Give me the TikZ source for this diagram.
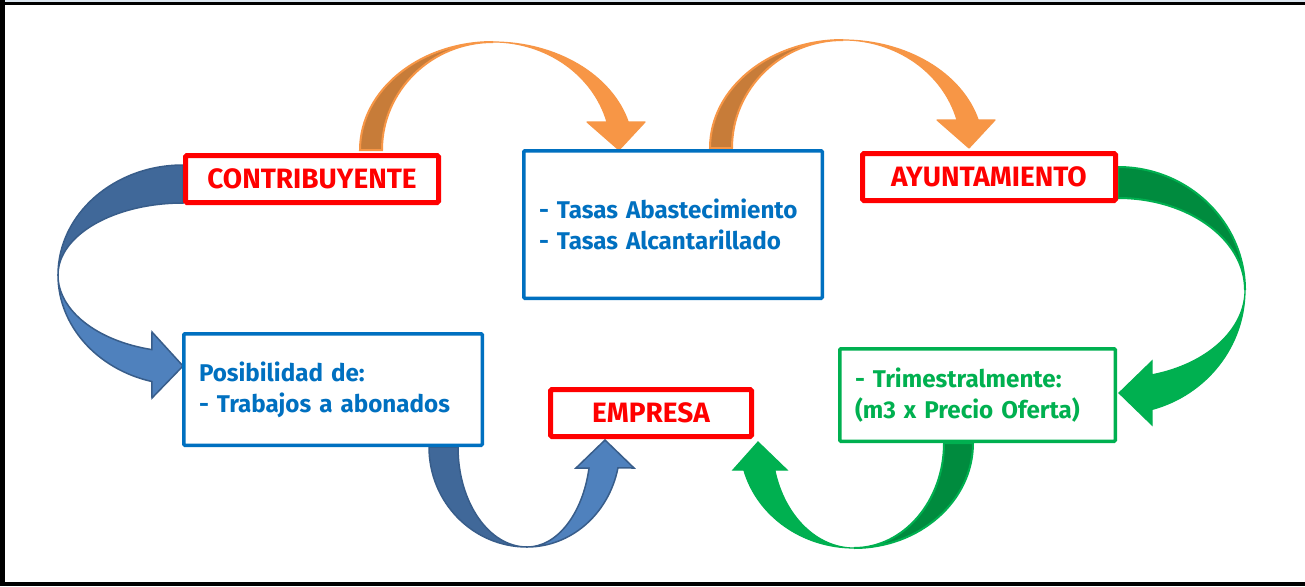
\documentclass[tikz,border=0pt]{standalone}
\usepackage{fontspec}
\setmainfont{Fira Sans}
\definecolor{cred}{RGB}{255,0,0}
\definecolor{cblue}{RGB}{0,112,192}
\definecolor{cgreen}{RGB}{0,176,80}
\definecolor{bluedark}{RGB}{64,104,153}
\definecolor{bluelight}{RGB}{79,129,189}
\definecolor{bluestroke}{RGB}{56,93,138}
\definecolor{corange}{RGB}{247,150,70}
\definecolor{orangedark}{RGB}{199,124,57}
\definecolor{greendark}{RGB}{0,139,62}
\definecolor{topstripe}{RGB}{220,230,240}
\begin{document}
\begin{tikzpicture}[x=1pt,y=-1pt,
  redbox/.style={draw=cred,line width=5pt,fill=white,rounded corners=1.5pt,inner sep=0pt,
    minimum width=253pt,minimum height=47pt,text=cred,font=\fontsize{28}{31}\selectfont\bfseries},
  infobox/.style={line width=3.5pt,fill=white,rounded corners=1pt,inner ysep=0pt,inner xsep=15.25pt,
    align=left,font=\fontsize{24.2}{31}\selectfont\bfseries},
  backpart/.style={line width=2pt},
  frontpart/.style={line width=1.2pt}]
\useasboundingbox (0,0) rectangle (1305,586);
% frame
\fill[white] (0,0) rectangle (1305,586);
\fill[topstripe] (0,0) rectangle (1305,2);
\fill[black] (0,2) rectangle (1305,5);
\fill[black] (0,581.5) rectangle (1305,586);
\fill[black] (0,0) rectangle (4.7,586);

% orange arrows (top)
\foreach \dx/\dy in {0/0,350/-2}{
\begin{scope}[shift={(\dx,\dy)}]
\filldraw[backpart,fill=orangedark,draw=corange] (360,150) arc[start angle=180,end angle=270,x radius=133,y radius=108]
  arc[start angle=270,end angle=180,x radius=111,y radius=108] -- cycle;
\filldraw[frontpart,fill=corange,draw=corange,line join=round] (493,42) arc[start angle=270,end angle=345,x radius=140,y radius=108]
  -- (645,122) -- (619,150) -- (587,122) -- (607,122)
  arc[start angle=345,end angle=270,x radius=118,y radius=108] -- cycle;
\end{scope}}

% blue arrow (left)
\filldraw[backpart,fill=bluedark,draw=bluestroke,line width=1.5pt] (183,165) arc[start angle=270,end angle=180,x radius=125,y radius=110]
  arc[start angle=180,end angle=270,x radius=125,y radius=72] -- cycle;
\filldraw[frontpart,fill=bluelight,draw=bluestroke,line width=1.5pt] (58,275) arc[start angle=180,end angle=104.4,x radius=125,y radius=110]
  -- (152,398) -- (183,366) -- (152,332) -- (151.9,349.6)
  arc[start angle=104.4,end angle=180,x radius=125,y radius=77] -- cycle;

% blue arrow (bottom)
\filldraw[backpart,fill=bluedark,draw=bluestroke,line width=1.5pt] (429,447) arc[start angle=180,end angle=90,x radius=98,y radius=100]
  arc[start angle=90,end angle=180,x radius=69,y radius=100] -- cycle;
\filldraw[frontpart,fill=bluelight,draw=bluestroke,line width=1.5pt] (527,547) arc[start angle=90,end angle=12.1,x radius=93,y radius=100]
  -- (634,468) -- (605,440) -- (576,468) -- (589,468)
  arc[start angle=12.1,end angle=90,x radius=63.4,y radius=100] -- cycle;

% green arrow (right)
\filldraw[backpart,fill=greendark,draw=cgreen] (1118,167) arc[start angle=270,end angle=360,x radius=127,y radius=123]
  arc[start angle=0,end angle=-90,x radius=127,y radius=92] -- cycle;
\filldraw[frontpart,fill=cgreen,draw=cgreen] (1245,290) arc[start angle=0,end angle=74.5,x radius=127,y radius=124]
  -- (1152,425) -- (1119,393) -- (1152,361) -- (1151.9,374.8)
  arc[start angle=74.5,end angle=0,x radius=127,y radius=88] -- cycle;

% green arrow (bottom)
\filldraw[backpart,fill=greendark,draw=cgreen] (973,443) arc[start angle=0,end angle=90,x radius=119,y radius=105]
  arc[start angle=90,end angle=0,x radius=90,y radius=105] -- cycle;
\filldraw[frontpart,fill=cgreen,draw=cgreen] (854,548) arc[start angle=90,end angle=165.1,x radius=114,y radius=105]
  -- (733,470) -- (758,442) -- (787,470) -- (774.8,470)
  arc[start angle=165.1,end angle=90,x radius=82,y radius=105] -- cycle;

% boxes
\node[redbox] (contrib) at (312,179) {CONTRIBUYENTE};
\node[redbox] (ayunt) at (989,177) {AYUNTAMIENTO};
\node[redbox,minimum width=201pt] (empresa) at (651,413) {EMPRESA};
\node[infobox,draw=cblue,text=cblue,text width=268pt,minimum height=147.5pt] (tasas) at (673,224.5)
  {- Tasas Abastecimiento\\- Tasas Alcantarillado};
\node[infobox,draw=cblue,text=cblue,text width=268pt,minimum height=111.5pt] (posib) at (333,389.5)
  {Posibilidad de:\\- Trabajos a abonados};
\node[infobox,draw=cgreen,text=cgreen,text width=245pt,minimum height=92.5pt] (trim) at (977.5,395)
  {- Trimestralmente:\\(m3 x Precio Oferta)};
\end{tikzpicture}
\end{document}
